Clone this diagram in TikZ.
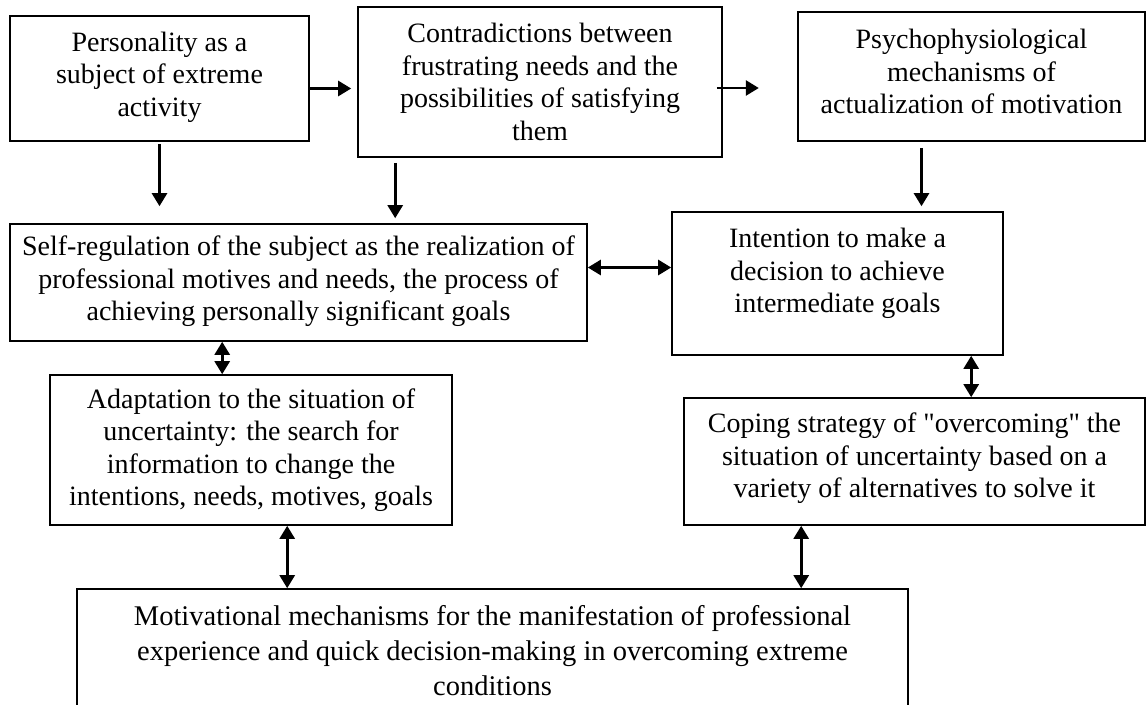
\documentclass[tikz,border=0pt]{standalone}
\usepackage{fontspec}
\setmainfont{Liberation Serif}
\newfontfamily\quotefont{Liberation Serif}
\newcommand{\sq}{{\quotefont"}}
\usetikzlibrary{arrows.meta,calc}
\begin{document}
\begin{tikzpicture}[x=1pt,y=-1pt,
  box/.style={draw,rectangle,line width=1.6pt,align=center,inner sep=0pt,font=\fontsize{28}{32.5}\selectfont},
  arr/.style={line width=2.6pt,-{Triangle[length=13pt,width=15pt]}},
  darr/.style={line width=2.6pt,{Triangle[length=13pt,width=15pt]}-{Triangle[length=13pt,width=15pt]}}]
\useasboundingbox (0,0) rectangle (1147,704);
\node[box,minimum width=299pt,minimum height=125pt,text depth=9pt] (pers) at (159.5,78.5) {Personality as a\\subject of extreme\\activity};
\node[box,minimum width=364pt,minimum height=150pt] (contr) at (540,82) {Contradictions between\\frustrating needs and the\\possibilities of satisfying\\them};
\node[box,minimum width=347pt,minimum height=129pt,text depth=10pt] (psych) at (971.5,76.5) {Psychophysiological\\mechanisms of\\actualization of motivation};
\node[box,minimum width=577pt,minimum height=117pt,text depth=8pt] (selfreg) at (298.5,282.5) {Self-regulation of the subject as the realization of\\professional motives and needs, the process of\\achieving personally significant goals};
\node[box,minimum width=331pt,minimum height=143pt,text depth=26pt] (intent) at (837.5,283.5) {Intention to make a\\decision to achieve\\intermediate goals};
\node[box,minimum width=402pt,minimum height=150pt] (adapt) at (251,450) {Adaptation to the situation of\\uncertainty: the search for\\information to change the\\intentions, needs, motives, goals};
\node[box,minimum width=461pt,minimum height=127pt,text depth=12pt] (coping) at (914.5,461.5) {Coping strategy of \sq overcoming\sq{} the\\situation of uncertainty based on a\\variety of alternatives to solve it};
\node[box,minimum width=831pt,minimum height=124pt,font=\fontsize{28.5}{35}\selectfont] (motiv) at (492.5,651) {Motivational mechanisms for the manifestation of professional\\experience and quick decision-making in overcoming extreme\\conditions};
\draw[arr,shorten >=6pt] ($(pers.east)+(0,-10pt)$) -- ($(pers.east -| contr.west)+(0,-10pt)$);
\draw[arr] ($(contr.east)+(-6pt,-6pt)$) -- ($(contr.east)+(36pt,-6pt)$);
\draw[arr,shorten <=2pt,shorten >=17pt] (pers.south) -- (pers.south |- selfreg.north);
\draw[arr,shorten <=5pt,shorten >=5pt] ($(contr.south west)+(38pt,0)$) -- ($(contr.south west |- selfreg.north)+(38pt,0)$);
\draw[arr,shorten <=6pt,shorten >=5pt] ($(psych.south)+(-50pt,0)$) -- ($(psych.south |- intent.north)+(-50pt,0)$);
\draw[darr] ($(selfreg.east)+(0,15pt)$) -- ($(selfreg.east -| intent.west)+(0,15pt)$);
\draw[darr] ($(selfreg.south west)+(213pt,0)$) -- ($(selfreg.south west |- adapt.north)+(213pt,0)$);
\draw[darr] ($(intent.south west)+(300pt,0)$) -- ($(intent.south west |- coping.north)+(300pt,0)$);
\draw[darr] ($(adapt.south west)+(238pt,0)$) -- ($(adapt.south west |- motiv.north)+(238pt,0)$);
\draw[darr] ($(coping.south west)+(118pt,0)$) -- ($(coping.south west |- motiv.north)+(118pt,0)$);
\end{tikzpicture}
\end{document}
